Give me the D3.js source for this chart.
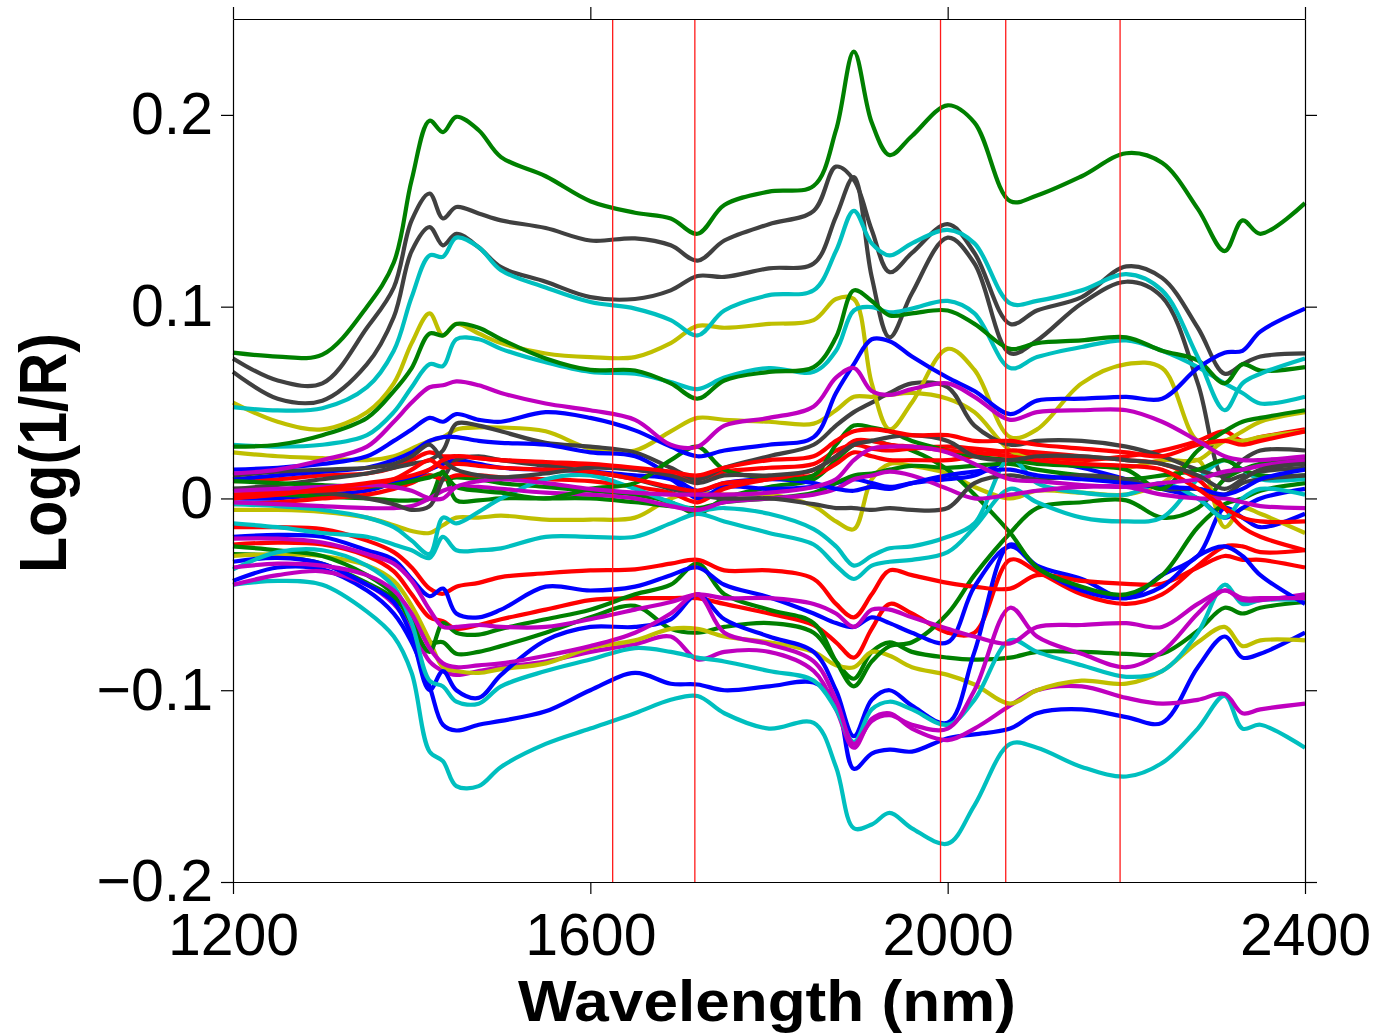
<!DOCTYPE html>
<html><head><meta charset="utf-8">
<script src="https://cdn.jsdelivr.net/npm/d3@7"></script>
<style>body{margin:0;background:#fff;} svg{display:block;}</style>
</head><body>
<svg id="chart" width="1375" height="1034"></svg>
<script>
// Wavelength grid (nm)
const wavelengths = [1200,1250,1300,1350,1380,1400,1420,1435,1450,1475,1500,1550,1600,1650,1690,1720,1750,1800,1850,1875,1895,1915,1935,1960,2000,2030,2070,2100,2150,2200,2240,2280,2310,2330,2350,2400];

// Spectra, Log(1/R)
const g1 = [.076,.074,.075,.100,.123,.166,.197,.191,.199,.192,.178,.168,.155,.149,.146,.138,.153,.160,.163,.192,.233,.196,.179,.189,.205,.196,.155,.158,.168,.180,.175,.151,.129,.145,.138,.154];
const k1 = [.073,.0615,.060,.089,.110,.145,.159,.146,.152,.1486,.145,.141,.1345,.1356,.132,.124,.1345,.143,.150,.173,.166,.140,.118,.128,.143,.128,.091,.098,.105,.121,.115,.089,.065,.070,.074,.0756];
const k2 = [.066,.052,.051,.070,.0946,.129,.1415,.132,.138,.131,.1206,.113,.105,.104,.1085,.116,.1155,.120,.1225,.147,.1676,.1155,.084,.107,.136,.1225,.0757,.0824,.1017,.113,.105,.060,.010,.012,.014,.016];
const c1 = [.0476,.0459,.047,.058,.077,.105,.1267,.126,.136,.131,.119,.110,.1024,.099,.093,.085,.098,.106,.1085,.129,.150,.133,.1267,.133,.140,.133,.1017,.103,.1085,.117,.1085,.0737,.046,.060,.065,.073];
const y1 = [.050,.040,.036,.045,.060,.081,.0965,.085,.091,.086,.081,.0756,.0737,.0737,.081,.090,.089,.091,.093,.104,.104,.060,.036,.050,.078,.067,.032,.036,.060,.070,.068,.030,.030,.035,.040,.045];
const g2 = [.027,.028,.033,.042,.056,.068,.086,.085,.091,.089,.083,.073,.067,.0667,.060,.052,.0615,.066,.0685,.084,.1085,.103,.0954,.0965,.098,.091,.078,.081,.0824,.084,.077,.072,.060,.070,.0667,.0685];
const c2 = [.028,.027,.028,.033,.045,.058,.070,.069,.083,.083,.078,.071,.066,.065,.0607,.057,.063,.068,.066,.077,.098,.0998,.097,.099,.103,.0965,.068,.0737,.079,.0824,.077,.0685,.060,.055,.0495,.053];
const m1 = [.013,.015,.020,.027,.040,.050,.058,.059,.061,.059,.055,.0495,.046,.041,.028,.027,.038,.042,.048,.063,.068,.056,.054,.057,.060,.053,.041,.045,.046,.046,.040,.030,.022,.020,.020,.022];
const b1 = [.015,.016,.018,.022,.030,.036,.042,.040,.044,.041,.040,.045,.042,.0355,.027,.022,.025,.028,.032,.055,.070,.083,.082,.074,.063,.056,.044,.051,.052,.053,.052,.068,.076,.077,.087,.099];
const y2 = [.024,.022,.021,.020,.022,.026,.030,.032,.036,.037,.037,.035,.026,.025,.035,.042,.041,.040,.039,.046,.053,.053,.054,.055,.052,.045,.025,.020,.018,.016,.020,.020,.030,.030,.032,.035];
const b2 = [.010,.012,.014,.016,.020,.024,.030,.032,.032,.030,.029,.028,.024,.022,.012,.004,.008,.010,.008,.005,.004,.006,.005,.008,.012,.014,.015,.012,.010,.008,.006,.005,.002,.005,.010,.015];
const k3 = [.005,.007,.010,.013,.016,.018,.020,.025,.039,.038,.035,.029,.027,.024,.016,.010,.016,.022,.028,.038,.045,.050,.055,.060,.058,.038,.028,.030,.030,.027,.022,.015,.012,.020,.025,.025];
const k4 = [.005,.004,.003,.000,-.003,-.006,-.004,.010,.020,.022,.020,.017,.014,.010,.005,.002,.000,.000,-.003,-.005,-.005,-.006,-.005,-.006,-.005,.008,.012,.010,.012,.010,.005,.005,.002,.008,.010,.012];
const k5 = [.012,.014,.015,.016,.018,.022,.028,.020,.015,.012,.011,.013,.016,.015,.012,.008,.012,.012,.015,.022,.028,.030,.032,.033,.030,.022,.020,.022,.022,.020,.018,.012,.005,.010,.015,.018];
const r1 = [.000,.002,.005,.008,.010,.012,.015,.020,.022,.021,.020,.019,.018,.016,.014,.012,.016,.020,.022,.030,.035,.036,.035,.033,.033,.030,.030,.028,.026,.024,.022,.028,.030,.028,.030,.035];
const r2 = [.002,.003,.004,.006,.010,.015,.020,.016,.018,.017,.016,.015,.014,.010,.006,.004,.008,.010,.015,.022,.030,.030,.028,.027,.025,.024,.022,.020,.018,.017,.015,.005,-.005,-.010,-.012,-.012];
const r3 = [-.003,-.002,.000,.002,.005,.008,.012,.010,.012,.012,.011,.010,.009,.006,.003,-.002,.005,.010,.012,.018,.024,.022,.020,.020,.020,.022,.025,.024,.022,.020,.018,.010,-.005,-.015,-.020,-.027];
const r4 = [.009,.010,.012,.013,.016,.020,.024,.022,.022,.021,.020,.018,.017,.015,.012,.010,.014,.016,.018,.025,.028,.026,.025,.026,.027,.026,.024,.022,.020,.022,.025,.030,.035,.030,.032,.036];
const r5 = [-.015,-.015,-.016,-.022,-.028,-.036,-.047,-.0497,-.046,-.044,-.041,-.039,-.0375,-.037,-.034,-.032,-.0375,-.0375,-.042,-.055,-.062,-.050,-.0375,-.040,-.044,-.046,-.047,-.040,-.043,-.0445,-.0445,-.036,-.030,-.032,-.032,-.036];
const r6 = [-.024,-.023,-.024,-.030,-.038,-.050,-.062,-.064,-.068,-.066,-.063,-.058,-.053,-.052,-.052,-.052,-.055,-.060,-.066,-.075,-.083,-.068,-.055,-.060,-.070,-.070,-.032,-.038,-.050,-.055,-.050,-.035,-.025,-.025,-.028,-.027];
const g3 = [.009,.008,.007,.006,.007,.009,.011,.013,.006,.004,.003,.000,.005,.008,.020,.027,.015,.011,.012,.028,.038,.037,.035,.030,.025,.022,.020,.018,.017,.015,.005,.025,.035,.040,.042,.046];
const g4 = [.002,.002,.001,.000,-.001,-.001,.000,.014,-.001,-.001,.000,.000,.000,-.002,-.004,-.005,-.002,.000,.003,.008,.012,.013,.015,.017,.016,.017,.018,.015,.012,.010,.012,.015,.020,.015,.012,.012];
const g5 = [.005,.005,.005,.006,.008,.010,.012,.010,.011,.010,.008,.006,.004,.002,-.002,-.008,.000,.006,.010,.020,.028,.030,.028,.025,.015,.002,-.018,-.036,-.046,-.050,-.040,-.015,-.003,.000,.004,.008];
const g6 = [-.029,-.030,-.034,-.044,-.052,-.062,-.075,-.075,-.081,-.080,-.077,-.070,-.062,-.056,-.068,-.070,-.067,-.065,-.070,-.085,-.094,-.080,-.075,-.080,-.083,-.084,-.083,-.080,-.080,-.081,-.081,-.069,-.057,-.060,-.057,-.054];
const g7 = [-.025,-.027,-.030,-.040,-.050,-.065,-.080,-.065,-.070,-.071,-.068,-.063,-.058,-.050,-.045,-.034,-.050,-.058,-.065,-.085,-.098,-.085,-.077,-.075,-.060,-.040,-.018,-.005,-.002,-.001,-.010,-.005,.010,.015,.018,.020];
const c3 = [-.003,-.004,-.006,-.010,-.015,-.022,-.029,-.010,-.013,-.007,.000,.010,.012,.005,-.002,-.006,-.005,-.008,-.016,-.025,-.035,-.030,-.026,-.025,-.020,-.013,.021,.008,.003,.002,.008,.000,-.010,.000,.005,.002];
const c4 = [-.013,-.015,-.018,-.020,-.024,-.027,-.031,-.020,-.027,-.027,-.026,-.020,-.020,-.020,-.013,-.008,-.012,-.018,-.024,-.035,-.042,-.035,-.033,-.032,-.028,-.015,.005,-.002,-.010,-.012,-.010,.010,.020,.015,.010,.010];
const c6 = [-.037,-.028,-.027,-.035,-.046,-.065,-.095,-.098,-.106,-.107,-.098,-.090,-.084,-.078,-.080,-.083,-.085,-.090,-.095,-.110,-.127,-.110,-.106,-.110,-.118,-.105,-.074,-.080,-.087,-.093,-.090,-.070,-.045,-.055,-.053,-.053];
const c7 = [-.045,-.043,-.045,-.059,-.072,-.091,-.132,-.137,-.150,-.150,-.140,-.128,-.120,-.112,-.105,-.103,-.112,-.120,-.117,-.140,-.172,-.170,-.164,-.172,-.180,-.160,-.128,-.130,-.140,-.145,-.138,-.120,-.103,-.120,-.118,-.130];
const b3 = [-.020,-.019,-.020,-.027,-.032,-.042,-.051,-.047,-.060,-.062,-.058,-.046,-.048,-.046,-.040,-.036,-.045,-.0515,-.060,-.065,-.067,-.062,-.065,-.070,-.075,-.046,-.025,-.036,-.048,-.052,-.046,-.030,-.025,-.030,-.040,-.055];
const b4 = [-.033,-.031,-.034,-.045,-.054,-.072,-.100,-.090,-.100,-.104,-.092,-.074,-.067,-.067,-.063,-.050,-.063,-.072,-.080,-.100,-.124,-.105,-.100,-.108,-.117,-.080,-.024,-.035,-.042,-.052,-.040,-.030,-.005,-.010,-.015,-.008];
const b5 = [.000,.000,.002,.004,.008,.010,.015,.018,.020,.018,.016,.015,.014,.012,.010,.000,.006,.005,.006,.008,.010,.008,.006,.008,.010,.012,.020,.020,.016,.010,.005,.000,-.010,-.005,.000,.005];
const b6 = [-.043,-.036,-.037,-.048,-.060,-.075,-.098,-.118,-.121,-.118,-.116,-.111,-.100,-.091,-.0966,-.097,-.100,-.098,-.096,-.106,-.141,-.133,-.131,-.132,-.125,-.123,-.120,-.112,-.110,-.114,-.117,-.088,-.072,-.083,-.081,-.070];
const m2 = [.004,.005,.006,.007,.006,.004,.000,.000,.006,.009,.010,.008,.005,.003,.002,.002,.002,.003,.006,.010,.020,.026,.027,.027,.024,.018,.010,.009,.007,.006,.008,.010,.014,.015,.017,.020];
const m3 = [-.002,-.003,-.004,-.005,-.005,-.004,.000,.004,.006,.006,.005,.003,.002,.000,-.004,-.006,-.002,.000,.002,.005,.010,.012,.014,.012,.005,.000,.002,.004,.006,.006,.002,.000,.000,-.002,-.004,-.005];
const m4 = [-.021,-.021,-.023,-.029,-.034,-.043,-.058,-.067,-.067,-.066,-.067,-.067,-.063,-.058,-.054,-.050,-.052,-.052,-.055,-.060,-.067,-.058,-.058,-.062,-.068,-.072,-.0756,-.067,-.066,-.065,-.067,-.055,-.048,-.052,-.052,-.052];
const m5 = [-.036,-.034,-.035,-.040,-.048,-.060,-.078,-.086,-.088,-.087,-.086,-.082,-.077,-.070,-.060,-.050,-.070,-.076,-.085,-.105,-.128,-.116,-.113,-.118,-.120,-.100,-.057,-.072,-.081,-.088,-.080,-.060,-.048,-.053,-.053,-.050];
const m6 = [-.045,-.040,-.038,-.045,-.055,-.068,-.085,-.090,-.092,-.090,-.088,-.085,-.080,-.076,-.072,-.084,-.080,-.080,-.090,-.110,-.130,-.115,-.112,-.120,-.126,-.120,-.108,-.100,-.098,-.104,-.107,-.105,-.102,-.112,-.110,-.107];
const y3 = [-.006,-.006,-.007,-.010,-.014,-.017,-.018,-.014,-.010,-.010,-.009,-.011,-.011,-.010,.000,.003,.002,.002,-.004,-.012,-.016,.010,.018,.017,.013,.006,.000,.004,.003,.002,.008,.020,-.015,-.005,-.008,-.018];
const y4 = [-.030,-.029,-.030,-.035,-.043,-.056,-.074,-.088,-.090,-.091,-.089,-.086,-.078,-.074,-.068,-.068,-.072,-.075,-.080,-.087,-.088,-.080,-.082,-.088,-.092,-.097,-.107,-.100,-.095,-.0966,-.090,-.075,-.067,-.077,-.074,-.074];

// drawing order and colour group of each spectrum
const spectra = [b6,g6,r6,c7,m6,y4,k1, b4,g7,r5,c6,m5,y3,k2, b3,g5,r4,c4,m4,y2,k3, b5,g4,r3,c3,m3,y1,k4, b2,g3,r2,c2,m2,g2,k5, b1,g1,r1,c1,m1];
const spectraColorKey = ['b','g','r','c','m','y','k', 'b','g','r','c','m','y','k', 'b','g','r','c','m','y','k', 'b','g','r','c','m','y','k', 'b','g','r','c','m','g','k', 'b','g','r','c','m'];
const palette = {b:'#0000ff', g:'#008000', r:'#ff0000', c:'#00bfbf', m:'#bf00bf', y:'#bfbf00', k:'#404040'};

const markerWavelengths = [1625,1717,1992,2065,2193];
const xTickValues = [1200,1600,2000,2400];
const yTickValues = [-0.2,-0.1,0,0.1,0.2];

const svg = d3.select('#chart');
const x = d3.scaleLinear().domain([1200,2400]).range([233,1305]);
const y = d3.scaleLinear().domain([-0.2,0.25]).range([882,19]);

const line = d3.line()
  .x((d,i)=>x(wavelengths[i]))
  .y(d=>y(d))
  .curve(d3.curveCatmullRom.alpha(0.5));

const plot = svg.append('g');
plot.selectAll('path.spec').data(spectra).join('path')
  .attr('class','spec')
  .attr('d', d=>line(d))
  .attr('fill','none')
  .attr('stroke',(d,i)=>palette[spectraColorKey[i]])
  .attr('stroke-width',4.2)
  .attr('stroke-linejoin','round');

plot.selectAll('line.mark').data(markerWavelengths).join('line')
  .attr('class','mark')
  .attr('x1',d=>x(d)).attr('x2',d=>x(d))
  .attr('y1',y(0.25)).attr('y2',y(-0.2))
  .attr('stroke','#ff1a1a').attr('stroke-width',1.3);

const fmtY = d => d===0 ? '0' : d3.format('.1f')(d);
const font = '"Liberation Sans", Arial, Helvetica, sans-serif';

const ax = (g)=>{ g.selectAll('path.domain').attr('stroke','#000').attr('stroke-width',1.2);
  g.selectAll('.tick line').attr('stroke','#000').attr('stroke-width',1.2);
  g.selectAll('text').attr('font-family',font).attr('font-size',59).attr('fill','#000'); };

svg.append('g').attr('transform','translate(0,882)')
  .call(d3.axisBottom(x).tickValues(xTickValues).tickSize(12).tickSizeOuter(0).tickPadding(19).tickFormat(d3.format('d')))
  .call(ax);
svg.append('g').attr('transform','translate(0,19)')
  .call(d3.axisTop(x).tickValues(xTickValues).tickSize(12).tickSizeOuter(0).tickFormat(''))
  .call(ax);
svg.append('g').attr('transform','translate(233,0)')
  .call(d3.axisLeft(y).tickValues(yTickValues).tickSize(12).tickSizeOuter(0).tickPadding(8).tickFormat(fmtY))
  .call(ax);
svg.append('g').attr('transform','translate(1305,0)')
  .call(d3.axisRight(y).tickValues(yTickValues).tickSize(12).tickSizeOuter(0).tickFormat(''))
  .call(ax);

svg.append('text')
  .attr('x',767).attr('y',1021)
  .attr('text-anchor','middle')
  .attr('font-family',font).attr('font-weight','bold').attr('font-size',58)
  .attr('textLength',498).attr('lengthAdjust','spacingAndGlyphs')
  .text('Wavelength (nm)');

svg.append('text')
  .attr('transform','translate(66,453) rotate(-90)')
  .attr('text-anchor','middle')
  .attr('font-family',font).attr('font-weight','bold').attr('font-size',66)
  .attr('textLength',240).attr('lengthAdjust','spacingAndGlyphs')
  .text('Log(1/R)');
</script>
</body></html>
